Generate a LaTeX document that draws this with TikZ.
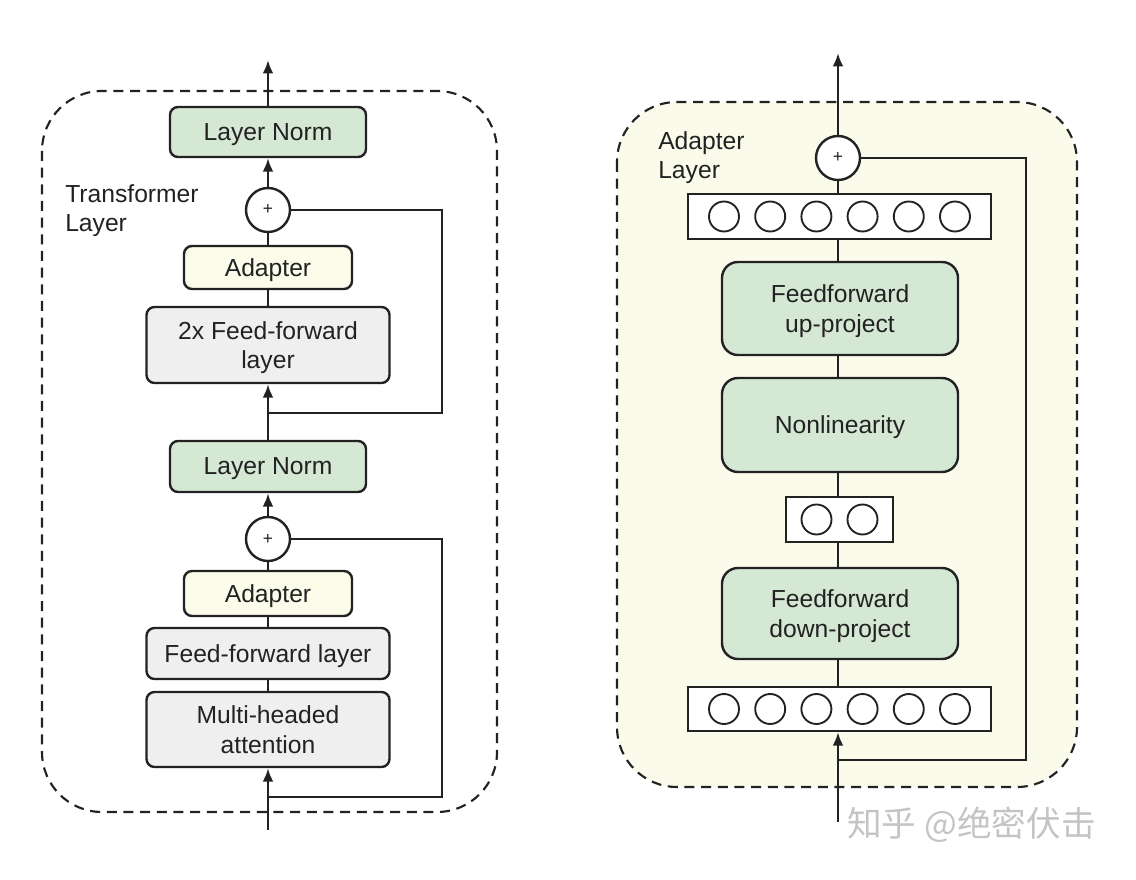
\documentclass[tikz,border=0pt]{standalone}
\usepackage{fontspec}
\setmainfont{Liberation Sans}
\newfontfamily\cjkfont{Noto Sans CJK SC}
\usetikzlibrary{arrows.meta}
\definecolor{ln}{HTML}{222222}
\definecolor{txt}{HTML}{222222}
\definecolor{grn}{HTML}{D5E8D4}
\definecolor{gry}{HTML}{EFEFEF}
\definecolor{crm}{HTML}{FCFCEA}
\definecolor{bgc}{HTML}{FBFBEC}
\definecolor{wm}{HTML}{C4C4C4}
\newcommand{\fsz}{\fontsize{18.5}{22}\selectfont}
\begin{document}
\begin{tikzpicture}[x=0.75pt,y=-0.75pt,
  sz/.style 2 args={minimum width=#1*0.75pt, minimum height=#2*0.75pt},
  box/.style={draw=ln, line width=1.8pt, rounded corners=6pt, font=\fsz, text=txt, align=center, inner sep=0pt, text depth=0pt},
  greenbox/.style={box, fill=grn},
  graybox/.style={box, fill=gry},
  adbox/.style={box, fill=crm},
  vecbox/.style={draw=ln, line width=1.8pt, fill=white, inner sep=0pt},
  unit/.style={circle, draw=ln, line width=1.4pt, fill=white, minimum size=30*0.75pt, inner sep=0pt},
  plus/.style={circle, draw=ln, line width=1.8pt, fill=white, minimum size=44*0.75pt, inner sep=0pt, font=\fontsize{13}{13}\selectfont, text=txt},
  conn/.style={draw=ln, line width=1.8pt},
  arr/.style={conn, -{Latex[length=10pt,width=8pt]}},
  frame/.style={dashed, dash pattern=on 7.5pt off 5pt, line width=1.6pt, draw=ln, rounded corners=45pt},
  lbl/.style={font=\fsz, text=txt, align=left, anchor=north west, inner sep=0pt}
]
\useasboundingbox (0,0) rectangle (1136,880);

% ---------- left panel ----------
\draw[frame] (42,91) rectangle (497,812);
\node[lbl] (tl) at (65,184) {Transformer\\Layer};

\node[greenbox, sz={196}{50}] (ln1) at (268,132) {Layer Norm};
\node[plus] (p1) at (268,210) {+};
\node[adbox, sz={168}{43}] (ad1) at (268,267.5) {Adapter};
\node[graybox, sz={243}{76}] (ff2) at (268,345) {2x Feed-forward\\layer};
\node[greenbox, sz={196}{51}] (ln2) at (268,466.5) {Layer Norm};
\node[plus] (p2) at (268,539) {+};
\node[adbox, sz={168}{45}] (ad2) at (268,593.5) {Adapter};
\node[graybox, sz={243}{51}] (ff) at (268,653.5) {Feed-forward layer};
\node[graybox, sz={243}{75}] (mha) at (268,729.5) {Multi-headed\\attention};

\coordinate (inL) at (268,830);
\coordinate (outL) at (268,60);
\coordinate (s1) at (268,797);
\coordinate (s2) at (268,413);

\draw[arr] (inL) -- (mha.south);
\draw[conn] (mha.north) -- (ff.south);
\draw[conn] (ff.north) -- (ad2.south);
\draw[conn] (ad2.north) -- (p2.south);
\draw[arr] (p2.north) -- (ln2.south);
\draw[arr] (ln2.north) -- (ff2.south);
\draw[conn] (ff2.north) -- (ad1.south);
\draw[conn] (ad1.north) -- (p1.south);
\draw[arr] (p1.north) -- (ln1.south);
\draw[arr] (ln1.north) -- (outL);
\draw[conn] (s1) -- ++(174,0) |- (p2.east);
\draw[conn] (s2) -- ++(174,0) |- (p1.east);

% ---------- right panel ----------
\draw[frame, fill=bgc] (617,102) rectangle (1077,787);
\node[lbl] (al) at (658,131) {Adapter\\Layer};

\node[plus] (p3) at (838,158) {+};
\node[vecbox, sz={303}{45}] (tv) at (839.5,216.5) {};
\foreach \i in {0,...,5} \node[unit] (tu\i) at ({724+46.2*\i},216.5) {};
\node[greenbox, sz={236}{93}, rounded corners=12pt] (up) at (840,308.5) {Feedforward\\up-project};
\node[greenbox, sz={236}{94}, rounded corners=12pt] (nl) at (840,425) {Nonlinearity};
\node[vecbox, sz={107}{45}] (sv) at (839.5,519.5) {};
\node[unit] (su0) at (816.5,519.5) {};
\node[unit] (su1) at (862.5,519.5) {};
\node[greenbox, sz={236}{91}, rounded corners=12pt] (dn) at (840,613.5) {Feedforward\\down-project};
\node[vecbox, sz={303}{44}] (bv) at (839.5,709) {};
\foreach \i in {0,...,5} \node[unit] (bu\i) at ({724+46.2*\i},709) {};

\coordinate (inR) at (838,822);
\coordinate (outR) at (838,53);
\coordinate (s3) at (838,760);

\draw[arr] (inR) -- (bv.south -| inR);
\draw[conn] (bv.north -| inR) -- (dn.south -| inR);
\draw[conn] (dn.north -| inR) -- (sv.south -| inR);
\draw[conn] (sv.north -| inR) -- (nl.south -| inR);
\draw[conn] (nl.north -| inR) -- (up.south -| inR);
\draw[conn] (up.north -| inR) -- (tv.south -| inR);
\draw[conn] (tv.north -| inR) -- (p3.south);
\draw[arr] (p3.north) -- (outR);
\draw[conn] (s3) -- ++(188,0) |- (p3.east);

% watermark
\node[anchor=west, inner sep=0pt, text=wm, font=\cjkfont\fontsize{26}{26}\selectfont] (wmk) at (847,825) {知乎 @绝密伏击};
\end{tikzpicture}
\end{document}
